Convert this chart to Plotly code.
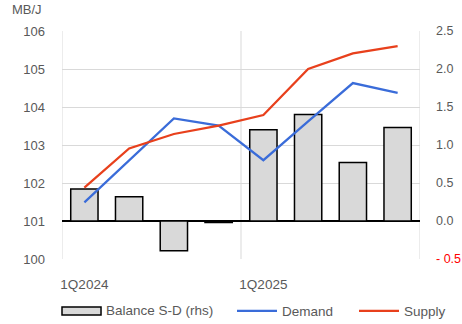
import plotly.graph_objects as go

quarters = ["1Q2024", "2Q2024", "3Q2024", "4Q2024", "1Q2025", "2Q2025", "3Q2025", "4Q2025"]
tick_labels = ["1Q2024", "", "", "", "1Q2025", "", "", ""]
balance = [0.42, 0.32, -0.39, -0.02, 1.20, 1.40, 0.77, 1.23]
demand = [101.49, 102.6, 103.7, 103.51, 102.6, 103.62, 104.63, 104.37]
supply = [101.88, 102.91, 103.29, 103.51, 103.79, 105.0, 105.41, 105.6]
left_ticks = [100, 101, 102, 103, 104, 105, 106]
right_ticks = [-0.5, 0, 0.5, 1.0, 1.5, 2.0, 2.5]
right_text = ['<span style="color:#FF0000">- 0.5</span>', "0.0", "0.5", "1.0", "1.5", "2.0", "2.5"]

x = list(range(len(quarters)))
FONT = "Liberation Sans"
GRAY = "#595959"
GRID = "#D9D9D9"
BAR_FILL = "#D9D9D9"

fig = go.Figure()
fig.add_trace(go.Bar(
    x=x, y=balance, name="Balance S-D (rhs)", yaxis="y", xaxis="x",
    marker=dict(color=BAR_FILL, line=dict(color="#000000", width=1.5)),
    width=0.61, showlegend=False,
))
fig.add_trace(go.Scatter(
    x=x, y=demand, name="Demand", yaxis="y2", mode="lines",
    line=dict(color="#3A6CD9", width=2.25), legend="legend",
))
fig.add_trace(go.Scatter(
    x=x, y=supply, name="Supply", yaxis="y2", mode="lines",
    line=dict(color="#E8401C", width=2.25), legend="legend2",
))

for b in [-0.5, 3.5, 7.5]:
    fig.add_shape(type="line", xref="x", yref="paper", x0=b, x1=b, y0=0, y1=1,
                  line=dict(color=GRID, width=1), layer="below")

# legend key for the bar series
fig.add_shape(type="rect", xref="paper", yref="paper", x0=0.0, x1=0.109,
              y0=-0.2456, y1=-0.2105, line=dict(color="#000000", width=1.5),
              fillcolor=BAR_FILL)

leg_common = dict(orientation="h", yanchor="middle", xanchor="left",
                  font=dict(size=13.5, color=GRAY, family=FONT), itemwidth=40,
                  bgcolor="rgba(0,0,0,0)")

fig.update_layout(
    width=462, height=324,
    margin=dict(l=62, r=42, t=31, b=65, autoexpand=False),
    paper_bgcolor="white", plot_bgcolor="white",
    font=dict(family=FONT, size=13, color=GRAY),
    showlegend=True,
    legend=dict(x=(232 - 62) / 358, y=-0.228, **leg_common),
    legend2=dict(x=(354 - 62) / 358, y=-0.228, **leg_common),
    xaxis=dict(range=[-0.5, 7.5], tickmode="array", tickvals=x, ticktext=tick_labels,
               showgrid=False, zeroline=False, showline=False, automargin=False,
               tickfont=dict(size=13.5), ticks="", ticklabelstandoff=15),
    yaxis=dict(side="right", range=[-0.5, 2.5], tickmode="array", tickvals=right_ticks,
               ticktext=right_text, showgrid=False, zeroline=True, zerolinecolor="#000000",
               zerolinewidth=2, automargin=False, tickfont=dict(size=12.5),
               ticks="", ticklabelstandoff=15),
    yaxis2=dict(overlaying="y", side="left", range=[100, 106], tickmode="array",
                tickvals=left_ticks, showgrid=True, gridcolor=GRID, gridwidth=1,
                zeroline=False, automargin=False, ticks="", ticklabelstandoff=16),
    annotations=[
        dict(text="MB/J", xref="paper", yref="paper", x=-0.145, y=1.095,
             xanchor="left", yanchor="middle", showarrow=False,
             font=dict(size=13, color=GRAY)),
        dict(text="Balance S-D (rhs)", xref="paper", yref="paper", x=(104 - 62) / 358,
             y=-0.228, xanchor="left", yanchor="middle", showarrow=False,
             font=dict(size=13.5, color=GRAY)),
    ],
)

fig.write_html("out.html")
